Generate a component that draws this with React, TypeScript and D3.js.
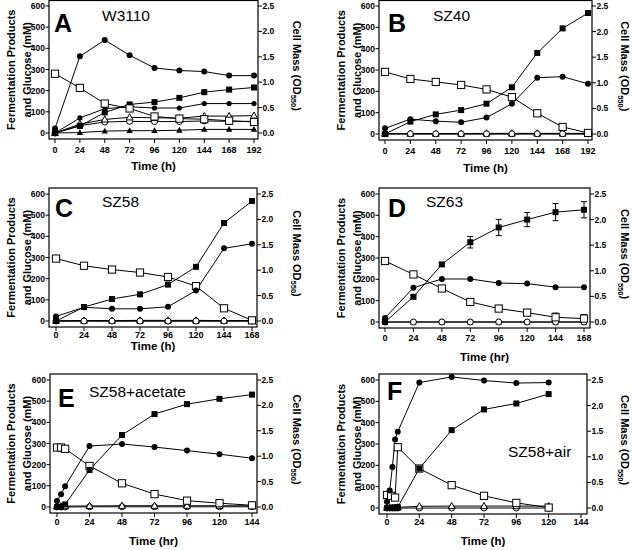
import React from "react";
import * as d3 from "d3";

// ---------------- DATA ----------------
// Panel A (W3110)
const hoursA = [0, 24, 48, 72, 96, 120, 144, 168, 192];
const cellA = [0.09, 1.51, 1.83, 1.53, 1.28, 1.23, 1.21, 1.13, 1.13];
const fsqA = [0, 33, 97, 135, 146, 166, 193, 205, 215];
const glucA = [280, 213, 139, 116, 78, 68, 65, 58, 52];
const scircA = [0, 71, 115, 124, 118, 118, 139, 139, 139];
const otriA = [0, 42, 64, 74, 72, 70, 80, 80, 82];
const ocircA = [0, 35, 52, 55, 54, 54, 57, 55, 55];
const ftriA = [0, 2, 9, 11, 11, 13, 17, 17, 17];

// Panel B (SZ40)
const hoursB = [0, 24, 48, 72, 96, 120, 144, 168, 192];
const cellB = [0.11, 0.29, 0.25, 0.23, 0.32, 0.59, 1.1, 1.12, 0.98];
const fsqB = [0, 58, 92, 112, 142, 219, 380, 495, 567];
const glucB = [291, 258, 244, 230, 209, 173, 97, 33, 5];
const otriB = [2, 2, 2, 2, 3, 3, 3, 3, 3];
const ocircB = [1, 1, 1, 1, 1, 1, 1, 1, 1];
const ftriB = [0, 0, 0, 0, 0, 0, 0, 0, 0];

// Panel C (SZ58)
const hoursC = [0, 24, 48, 72, 96, 120, 144, 168];
const cellC = [0.09, 0.27, 0.24, 0.24, 0.28, 0.6, 1.43, 1.52];
const fsqC = [0, 66, 104, 126, 172, 256, 463, 567];
const glucC = [295, 261, 243, 229, 208, 165, 60, 3];
const otriC = [1, 2, 2, 3, 3, 3, 2, 2];
const ocircC = [0, 0, 0, 0, 0, 0, 0, 0];
const ftriC = [0, 0, 0, 0, 0, 0, 0, 0];

// Panel D (SZ63)
const hoursD = [0, 24, 48, 72, 96, 120, 144, 168];
const cellD = [0.08, 0.67, 0.84, 0.84, 0.76, 0.75, 0.68, 0.68];
const fsqD = [0, 118, 270, 374, 443, 480, 515, 526];
const fsqErrD = [3, 6, 8, 27, 38, 33, 40, 38];
const glucD = [286, 223, 157, 94, 63, 44, 22, 16];
const glucErrD = [2, 4, 4, 10, 8, 12, 20, 18];
const ocircD = [0, 0, 0, 0, 0, 0, 0, 0];
const ftriD = [0, 0, 0, 0, 0, 0, 0, 0];

// Panel E (SZ58+acetate)
const hoursE = [0, 3, 6, 24, 48, 72, 96, 120, 144];
const cellE = [0.12, 0.25, 0.41, 1.2, 1.24, 1.18, 1.11, 1.04, 0.96];
const fsqE = [0, 1, 12, 175, 340, 439, 486, 511, 531];
const glucE = [281, 281, 275, 194, 112, 61, 30, 18, 8];
const otriE = [3, 3, 4, 5, 6, 6, 6, 6, 6];
const ocircE = [0, 0, 0, 1, 1, 1, 1, 1, 1];

// Panel F (SZ58+air)
const hoursF = [0, 2, 4, 6, 8, 24, 48, 72, 96, 120];
const cellF = [0.12, 0.34, 0.8, 1.34, 1.49, 2.45, 2.56, 2.49, 2.44, 2.45];
const fsqF = [0, 0, 1, 2, 4, 185, 365, 462, 490, 534];
const hoursGlucF = [0, 3, 6, 8, 24, 48, 72, 96, 120];
const glucF = [61, 57, 49, 285, 185, 107, 57, 24, 2];
const otriF = [1, 1, 1, 2, 3, 8, 9, 9, 9, 9];
const ocircF = [0, 0, 0, 0, 0, 0, 0, 0, 0, 0];

const leftTicks = [0, 100, 200, 300, 400, 500, 600];
const rightTicks = [0, 0.5, 1.0, 1.5, 2.0, 2.5];

// ---------------- RENDERING ----------------
const FONT = "'Liberation Sans', Arial, Helvetica, sans-serif";

type Marker = "fcirc" | "scirc" | "fsq" | "osq" | "otri" | "ocirc" | "ftri";
type Series = { x: number[]; y: number[]; m: Marker; axis?: "right"; err?: number[] };

type Spec = {
  box: [number, number, number, number];
  xr: [number, number];
  yr: [number, number];
  xMax: number;
  letter: string;
  letterPos: [number, number];
  name: string;
  namePos: [number, number];
  timeLabel: string;
  tickLabelY: number;
  timeLabelY: number;
  leftX: [number, number];
  rightX: number;
  rightParen: boolean;
  series: Series[];
};

function markerEl(m: Marker, cx: number, cy: number, key: string) {
  const s = "#000";
  switch (m) {
    case "fcirc":
      return <circle key={key} cx={cx} cy={cy} r={3} fill={s} />;
    case "scirc":
      return <circle key={key} cx={cx} cy={cy} r={2.6} fill={s} />;
    case "ocirc":
      return <circle key={key} cx={cx} cy={cy} r={3} fill="#fff" stroke={s} strokeWidth={1} />;
    case "fsq":
      return <rect key={key} x={cx - 3} y={cy - 3} width={6} height={6} fill={s} />;
    case "osq":
      return <rect key={key} x={cx - 3.6} y={cy - 3.6} width={7.2} height={7.2} fill="#fff" stroke={s} strokeWidth={1} />;
    case "otri":
      return (
        <path key={key} d={`M${cx},${cy - 3.6}L${cx + 3.4},${cy + 2.6}L${cx - 3.4},${cy + 2.6}Z`} fill="#fff" stroke={s} strokeWidth={1} />
      );
    case "ftri":
      return <path key={key} d={`M${cx},${cy - 3.4}L${cx + 3.2},${cy + 2.4}L${cx - 3.2},${cy + 2.4}Z`} fill={s} />;
  }
}

function Panel({ spec }: { spec: Spec }) {
  const [bx0, bx1, by0, by1] = spec.box;
  const x = d3.scaleLinear().domain([0, spec.xMax]).range(spec.xr);
  const yL = d3.scaleLinear().domain([0, 600]).range(spec.yr);
  const yR = d3.scaleLinear().domain([0, 2.5]).range(spec.yr);
  const xTicks = d3.range(0, spec.xMax + 1, 24);
  const line = (s: Series) => {
    const ys = s.axis === "right" ? yR : yL;
    return d3
      .line<number>()
      .x((_, i) => x(s.x[i]))
      .y((v) => ys(v))(s.y) as string;
  };
  const cy = (by0 + by1) / 2;
  return (
    <g fontFamily={FONT} fill="#000">
      <rect x={bx0} y={by0} width={bx1 - bx0} height={by1 - by0} fill="none" stroke="#000" strokeWidth={1.2} />
      {/* left ticks */}
      {leftTicks.map((t) => (
        <g key={"l" + t}>
          <line x1={bx0 - 3.5} x2={bx0} y1={yL(t)} y2={yL(t)} stroke="#000" strokeWidth={1} />
          <text x={bx0 - 4} y={yL(t) + 3} fontSize={8.5} fontWeight="bold" textAnchor="end">
            {t}
          </text>
        </g>
      ))}
      {/* right ticks */}
      {rightTicks.map((t) => (
        <g key={"r" + t}>
          <line x1={bx1} x2={bx1 + 4} y1={yR(t)} y2={yR(t)} stroke="#000" strokeWidth={1} />
          <text x={bx1 + 4.5} y={yR(t) + 3} fontSize={8.5} fontWeight="bold" textAnchor="start">
            {t.toFixed(1)}
          </text>
        </g>
      ))}
      {/* bottom ticks */}
      {xTicks.map((t) => (
        <g key={"b" + t}>
          <line x1={x(t)} x2={x(t)} y1={by1} y2={by1 + 4} stroke="#000" strokeWidth={1} />
          <text x={x(t)} y={spec.tickLabelY} fontSize={9} fontWeight="bold" textAnchor="middle">
            {t}
          </text>
        </g>
      ))}
      <text x={(bx0 + bx1) / 2} y={spec.timeLabelY} fontSize={11.5} fontWeight="bold" textAnchor="middle">
        {spec.timeLabel}
      </text>
      {/* left label */}
      <text transform={`translate(${spec.leftX[0]},${cy}) rotate(-90)`} fontSize={11} fontWeight="bold" textAnchor="middle">
        Fermentation Products
      </text>
      <text transform={`translate(${spec.leftX[1]},${cy}) rotate(-90)`} fontSize={11} fontWeight="bold" textAnchor="middle">
        and Glucose (mM)
      </text>
      {/* right label */}
      <text transform={`translate(${spec.rightX},${cy - 4}) rotate(90)`} fontSize={11} fontWeight="bold" textAnchor="middle">
        {spec.rightParen ? "Cell Mass  (OD" : "Cell Mass OD"}
        <tspan fontSize={7.5} dy={2.5}>
          550
        </tspan>
        <tspan dy={-2.5}>)</tspan>
      </text>
      {/* letter + name */}
      <text x={spec.letterPos[0]} y={spec.letterPos[1]} fontSize={25} fontWeight="bold">
        {spec.letter}
      </text>
      <text x={spec.namePos[0]} y={spec.namePos[1]} fontSize={15.5}>
        {spec.name}
      </text>
      {/* lines */}
      {spec.series.map((s, i) => (
        <path key={"p" + i} d={line(s)} fill="none" stroke="#000" strokeWidth={1} />
      ))}
      {/* error bars */}
      {spec.series.map((s, i) =>
        s.err
          ? s.err.map((e, j) => {
              const ys = s.axis === "right" ? yR : yL;
              const px = x(s.x[j]);
              const a = ys(s.y[j] + e);
              const b = ys(s.y[j] - e);
              return (
                <g key={"e" + i + "-" + j} stroke="#000" strokeWidth={1}>
                  <line x1={px} x2={px} y1={a} y2={b} />
                  <line x1={px - 3} x2={px + 3} y1={a} y2={a} />
                  <line x1={px - 3} x2={px + 3} y1={b} y2={b} />
                </g>
              );
            })
          : null
      )}
      {/* markers */}
      {spec.series.map((s, i) => {
        const ys = s.axis === "right" ? yR : yL;
        return s.y.map((v, j) => markerEl(s.m, x(s.x[j]), ys(v), `m${i}-${j}`));
      })}
    </g>
  );
}

const specs: Spec[] = [
  {
    box: [49, 258, 0.5, 139],
    xr: [55, 254],
    yr: [133, 6],
    xMax: 192,
    letter: "A",
    letterPos: [54, 32],
    name: "W3110",
    namePos: [102, 21],
    timeLabel: "Time (h)",
    tickLabelY: 153,
    timeLabelY: 170,
    leftX: [15, 31],
    rightX: 293,
    rightParen: true,
    series: [
      { x: hoursA, y: ftriA, m: "ftri" },
      { x: hoursA, y: ocircA, m: "ocirc" },
      { x: hoursA, y: otriA, m: "otri" },
      { x: hoursA, y: scircA, m: "scirc" },
      { x: hoursA, y: fsqA, m: "fsq" },
      { x: hoursA, y: glucA, m: "osq" },
      { x: hoursA, y: cellA, m: "fcirc", axis: "right" },
    ],
  },
  {
    box: [379, 592, 0.5, 140],
    xr: [385, 588],
    yr: [134, 6],
    xMax: 192,
    letter: "B",
    letterPos: [388, 32],
    name: "SZ40",
    namePos: [433, 21],
    timeLabel: "Time (h)",
    tickLabelY: 154,
    timeLabelY: 172,
    leftX: [345, 361],
    rightX: 620.5,
    rightParen: true,
    series: [
      { x: hoursB, y: ftriB, m: "ftri" },
      { x: hoursB, y: otriB, m: "otri" },
      { x: hoursB, y: ocircB, m: "ocirc" },
      { x: hoursB, y: fsqB, m: "fsq" },
      { x: hoursB, y: glucB, m: "osq" },
      { x: hoursB, y: cellB, m: "fcirc", axis: "right" },
    ],
  },
  {
    box: [49, 257, 188, 327],
    xr: [56, 252],
    yr: [321, 194],
    xMax: 168,
    letter: "C",
    letterPos: [55, 217],
    name: "SZ58",
    namePos: [102, 207],
    timeLabel: "Time (h)",
    tickLabelY: 338,
    timeLabelY: 350,
    leftX: [15, 31],
    rightX: 293,
    rightParen: false,
    series: [
      { x: hoursC, y: ftriC, m: "ftri" },
      { x: hoursC, y: otriC, m: "otri" },
      { x: hoursC, y: ocircC, m: "ocirc" },
      { x: hoursC, y: fsqC, m: "fsq" },
      { x: hoursC, y: glucC, m: "osq" },
      { x: hoursC, y: cellC, m: "fcirc", axis: "right" },
    ],
  },
  {
    box: [379, 590, 188, 328],
    xr: [385, 584],
    yr: [322, 194],
    xMax: 168,
    letter: "D",
    letterPos: [388, 217],
    name: "SZ63",
    namePos: [426, 207],
    timeLabel: "Time (hr)",
    tickLabelY: 341,
    timeLabelY: 361,
    leftX: [345, 361],
    rightX: 620.5,
    rightParen: true,
    series: [
      { x: hoursD, y: ftriD, m: "ftri" },
      { x: hoursD, y: ocircD, m: "ocirc" },
      { x: hoursD, y: glucD, m: "osq", err: glucErrD },
      { x: hoursD, y: fsqD, m: "fsq", err: fsqErrD },
      { x: hoursD, y: cellD, m: "fcirc", axis: "right" },
    ],
  },
  {
    box: [50, 257, 374, 513],
    xr: [57, 252],
    yr: [507, 380],
    xMax: 144,
    letter: "E",
    letterPos: [58, 407],
    name: "SZ58+acetate",
    namePos: [89, 397],
    timeLabel: "Time (hr)",
    tickLabelY: 525,
    timeLabelY: 545,
    leftX: [15, 31],
    rightX: 293,
    rightParen: true,
    series: [
      { x: hoursE, y: ocircE, m: "ocirc" },
      { x: hoursE, y: otriE, m: "otri" },
      { x: hoursE, y: glucE, m: "osq" },
      { x: hoursE, y: fsqE, m: "fsq" },
      { x: hoursE, y: cellE, m: "fcirc", axis: "right" },
    ],
  },
  {
    box: [379, 587, 374, 514],
    xr: [387, 581],
    yr: [508, 380],
    xMax: 144,
    letter: "F",
    letterPos: [387, 400],
    name: "SZ58+air",
    namePos: [508, 457],
    timeLabel: "Time (h)",
    tickLabelY: 525,
    timeLabelY: 545,
    leftX: [345, 361],
    rightX: 620.5,
    rightParen: true,
    series: [
      { x: hoursF, y: ocircF, m: "ocirc" },
      { x: hoursF, y: otriF, m: "otri" },
      { x: hoursGlucF, y: glucF, m: "osq" },
      { x: hoursF, y: fsqF, m: "fsq" },
      { x: hoursF, y: cellF, m: "fcirc", axis: "right" },
    ],
  },
];

export default function App() {
  return (
    <svg width={632} height={550} style={{ position: "absolute", left: 0, top: 0, background: "#fff" }}>
      <rect x={0} y={0} width={632} height={550} fill="#fff" />
      {specs.map((s, i) => (
        <Panel key={i} spec={s} />
      ))}
    </svg>
  );
}
